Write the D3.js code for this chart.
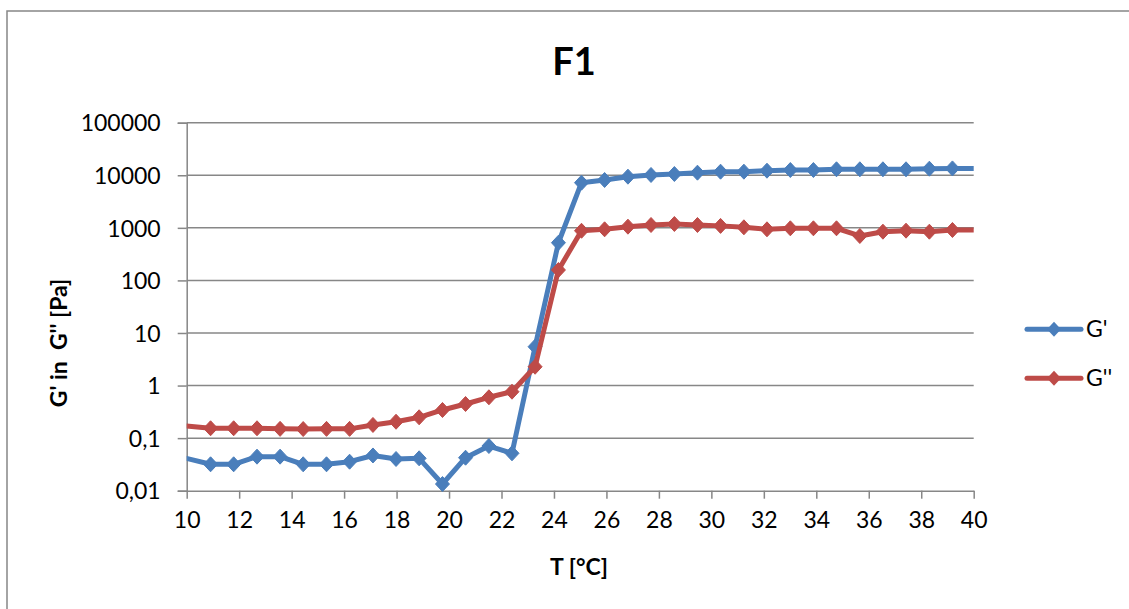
<!DOCTYPE html>
<html>
<head>
<meta charset="utf-8">
<script src="https://cdn.jsdelivr.net/npm/d3@7"></script>
<style>
  html, body { margin: 0; padding: 0; background: #fff; }
  svg { display: block; font-family: Lato, "Open Sans", sans-serif; }
</style>
</head>
<body>
<svg id="chart" width="1129" height="609"></svg>
<script>
const temps = [9.99, 10.91, 11.79, 12.68, 13.56, 14.44, 15.33, 16.21, 17.10, 17.98, 18.86,
  19.75, 20.63, 21.52, 22.40, 23.28, 24.17, 25.05, 25.93, 26.82, 27.70, 28.59, 29.47,
  30.35, 31.24, 32.12, 33.01, 33.89, 34.77, 35.66, 36.54, 37.42, 38.31, 39.19, 40.07];

// G' [Pa]
const gStorage = [0.0413, 0.0318, 0.0318, 0.0444, 0.0444, 0.0318, 0.0318, 0.0356, 0.0468,
  0.0401, 0.0413, 0.0134, 0.0424, 0.0708, 0.0514, 5.48, 521, 7220, 8130, 9400, 10130,
  10570, 11200, 11700, 11700, 12220, 12590, 12590, 13000, 13000, 13000, 13000, 13340,
  13500, 13500];

// G'' [Pa]
const gLoss = [0.170, 0.154, 0.154, 0.154, 0.150, 0.149, 0.150, 0.150, 0.178, 0.205,
  0.249, 0.343, 0.446, 0.598, 0.764, 2.28, 158, 880, 938, 1052, 1133, 1184, 1133, 1090,
  1024, 938, 980, 980, 980, 700, 845, 883, 845, 910, 910];

const xTicks = [10, 12, 14, 16, 18, 20, 22, 24, 26, 28, 30, 32, 34, 36, 38, 40];
const yTicks = [0.01, 0.1, 1, 10, 100, 1000, 10000, 100000];
const seriesNames = ["G'", "G''"];
const seriesColors = ["#4A7EBB", "#BE4B48"];

const svg = d3.select('#chart');
const grey = '#878787';

const x = d3.scaleLinear().domain([10, 40]).range([186.7, 973.7]);
const y = d3.scaleLog().domain([0.01, 100000]).range([490.7, 122.7]);

// Outer chart border (only left and top visible)
svg.append('path')
  .attr('d', 'M7,612 L7,11 L1135,11')
  .attr('fill', 'none').attr('stroke', grey).attr('stroke-width', 1.5);

// Title
svg.append('text').attr('x', 574).attr('y', 75)
  .attr('text-anchor', 'middle').attr('font-weight', 'bold').attr('font-size', 38)
  .text('F1');

// Gridlines
svg.append('g').selectAll('line').data(yTicks.slice(1)).enter().append('line')
  .attr('x1', x(10)).attr('x2', x(40))
  .attr('y1', d => y(d)).attr('y2', d => y(d))
  .attr('stroke', grey).attr('stroke-width', 1.5);

// Y axis
const yAxis = svg.append('g').attr('transform', `translate(${x(10)},0)`)
  .call(d3.axisLeft(y).tickValues(yTicks).tickSize(9).tickPadding(17)
    .tickFormat(d => String(d).replace('.', ',')));
yAxis.select('.domain').attr('stroke', grey).attr('stroke-width', 1.5);
yAxis.selectAll('.tick line').attr('stroke', grey).attr('stroke-width', 1.5);
yAxis.selectAll('.tick text').attr('font-size', 23).attr('fill', '#000')
  .attr('font-family', 'Lato, sans-serif').attr('dy', '0.36em');

// X axis
const xAxis = svg.append('g').attr('transform', `translate(0,${y(0.01)})`)
  .call(d3.axisBottom(x).tickValues(xTicks).tickSize(8).tickPadding(13).tickSizeOuter(0));
xAxis.select('.domain').attr('stroke', grey).attr('stroke-width', 1.5);
xAxis.selectAll('.tick line').attr('stroke', grey).attr('stroke-width', 1.5);
xAxis.selectAll('.tick text').attr('font-size', 23).attr('fill', '#000')
  .attr('font-family', 'Lato, sans-serif');

// Axis titles
svg.append('text').attr('x', 579).attr('y', 575)
  .attr('text-anchor', 'middle').attr('font-weight', 'bold').attr('font-size', 23)
  .text('T [°C]');
svg.append('text')
  .attr('transform', 'translate(67,343) rotate(-90)')
  .attr('text-anchor', 'middle').attr('font-weight', 'bold').attr('font-size', 23)
  .attr('xml:space', 'preserve')
  .text("G' in  G'' [Pa]");

// Clip to plot area
svg.append('defs').append('clipPath').attr('id', 'plotClip')
  .append('rect').attr('x', x(10)).attr('y', 100)
  .attr('width', x(40) - x(10)).attr('height', 420);

const diamond = (cx, cy) => `M${cx},${cy - 7.5}L${cx + 7},${cy}L${cx},${cy + 7.5}L${cx - 7},${cy}Z`;

const series = [gStorage, gLoss];
const plot = svg.append('g').attr('clip-path', 'url(#plotClip)');
const line = d3.line().x(d => x(d[0])).y(d => y(d[1]));

series.forEach((vals, i) => {
  const pts = temps.map((t, j) => [t, vals[j]]);
  const g = plot.append('g');
  g.append('path').datum(pts).attr('d', line)
    .attr('fill', 'none').attr('stroke', seriesColors[i]).attr('stroke-width', 5)
    .attr('stroke-linejoin', 'round').attr('stroke-linecap', 'round');
  g.selectAll('path.marker').data(pts.filter(d => d[0] >= 10 && d[0] <= 40)).enter()
    .append('path').attr('class', 'marker')
    .attr('d', d => diamond(x(d[0]), y(d[1])))
    .attr('fill', seriesColors[i]).attr('stroke', seriesColors[i]).attr('stroke-width', 1);
});

// Legend
const legend = svg.append('g');
seriesNames.forEach((name, i) => {
  const ly = 329.3 + i * 49;
  legend.append('line').attr('x1', 1027).attr('x2', 1081).attr('y1', ly).attr('y2', ly)
    .attr('stroke', seriesColors[i]).attr('stroke-width', 5).attr('stroke-linecap', 'round');
  legend.append('path').attr('d', diamond(1054, ly)).attr('fill', seriesColors[i]);
  legend.append('text').attr('x', 1086).attr('y', ly + 8)
    .attr('font-size', 23).text(name);
});
</script>
</body>
</html>
